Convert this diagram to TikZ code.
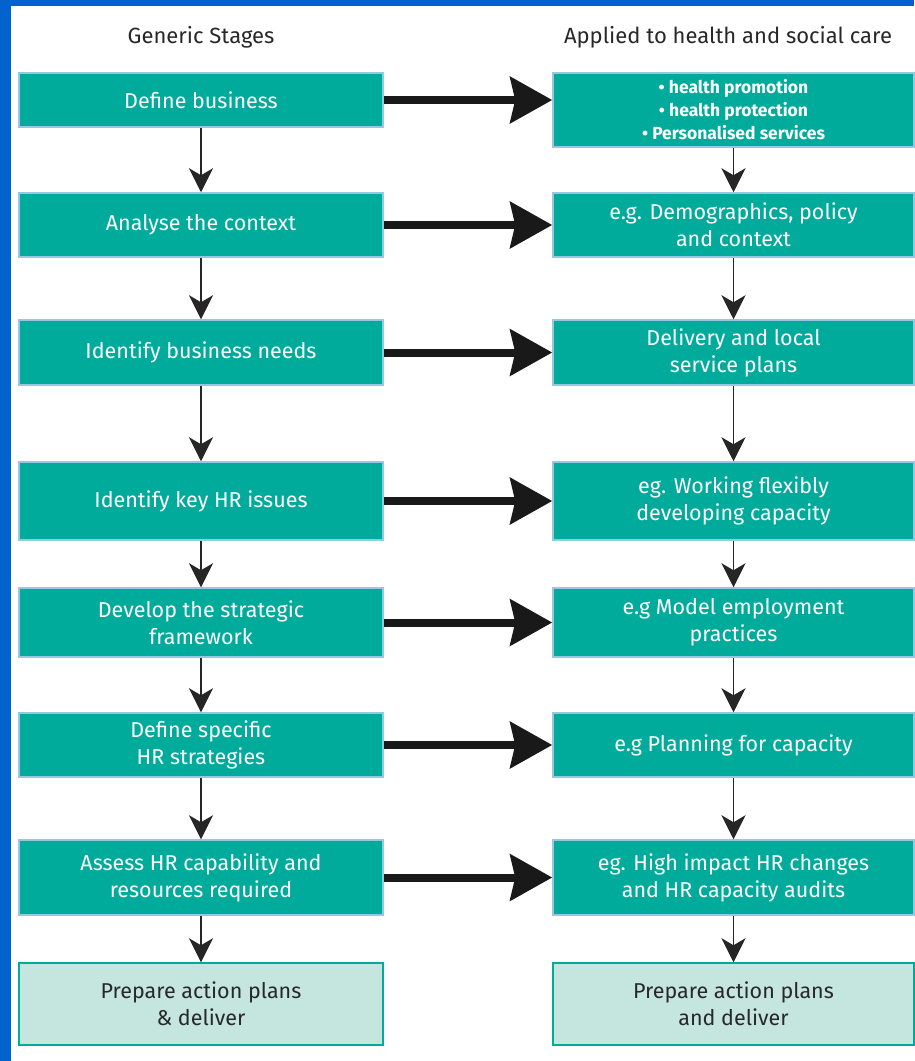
\documentclass[tikz,border=0pt]{standalone}
\usepackage{fontspec}
\setmainfont{Fira Sans}
\usetikzlibrary{arrows.meta}
\definecolor{frameblue}{RGB}{0,98,204}
\definecolor{tealbox}{RGB}{0,171,155}
\definecolor{edgeblue}{RGB}{150,200,225}
\definecolor{palegreen}{RGB}{196,230,222}
\definecolor{headgrey}{RGB}{40,40,40}
\begin{document}
\begin{tikzpicture}[x=1pt, y=-1pt,
      stage/.style={draw=edgeblue, line width=1.5pt, fill=tealbox, text=white,
        minimum width=364pt, align=center, font=\fontsize{21.5}{27}\selectfont},
      applied/.style={stage, minimum width=361pt},
      final/.style={fill=palegreen, draw=tealbox, text=headgrey},
      head/.style={text=headgrey, font=\fontsize{22}{24}\selectfont},
      down/.style={-{Stealth[length=24pt, width=24pt, inset=7pt]}, line width=1.8pt, black!85},
      across/.style={-{Stealth[length=42pt, width=46pt, inset=5pt]}, line width=8pt, black!90}]
    % frame
    \useasboundingbox (0,0) rectangle (914,1061);
    \fill[frameblue] (0,0) rectangle (914,1061);
    \fill[white] (11,6) rectangle (914,1061);
    % headings
    \node[head] (lhead) at (201,37) {Generic Stages};
    \node[head] (rhead) at (728,37) {Applied to health and social care};
    % generic stages
    \node[stage, minimum height=54pt] (ls1) at (201,100) {Define business};
    \node[stage, minimum height=64pt] (ls2) at (201,225) {Analyse the context};
    \node[stage, minimum height=65pt] (ls3) at (201,352.5) {Identify business needs};
    \node[stage, minimum height=78pt] (ls4) at (201,501) {Identify key HR issues};
    \node[stage, minimum height=69pt] (ls5) at (201,622.5) {Develop the strategic\\framework};
    \node[stage, minimum height=64pt] (ls6) at (201,745) {Define specific\\HR strategies};
    \node[stage, minimum height=75pt] (ls7) at (201,877.5) {Assess HR capability and\\resources required};
    \node[stage, final, minimum height=82pt] (ls8) at (201,1004) {Prepare action plans\\\& deliver};
    % applied stages
    \node[applied, minimum height=74pt, font=\bfseries\fontsize{17.5}{23}\selectfont] (rs1) at (733.5,110)
      {• health promotion\\• health protection\\• Personalised services};
    \node[applied, minimum height=64pt] (rs2) at (733.5,225) {e.g. Demographics, policy\\and context};
    \node[applied, minimum height=65pt] (rs3) at (733.5,352.5) {Delivery and local\\service plans};
    \node[applied, minimum height=78pt] (rs4) at (733.5,501) {eg. Working flexibly\\developing capacity};
    \node[applied, minimum height=69pt] (rs5) at (733.5,622.5) {e.g Model employment\\practices};
    \node[applied, minimum height=64pt] (rs6) at (733.5,745) {e.g Planning for capacity};
    \node[applied, minimum height=75pt] (rs7) at (733.5,877.5) {eg. High impact HR changes\\and HR capacity audits};
    \node[applied, final, minimum height=82pt] (rs8) at (733.5,1004) {Prepare action plans\\and deliver};
    % arrows
    \foreach \i/\j in {1/2,2/3,3/4,4/5,5/6,6/7,7/8} {
      \draw[down] (ls\i) -- (ls\j);
      \draw[down] (rs\i) -- (rs\j);
    }
    \foreach \i in {1,...,7}
      \draw[across] (ls\i.east) -- (ls\i.east -| rs\i.west);
  \end{tikzpicture}
\end{document}
